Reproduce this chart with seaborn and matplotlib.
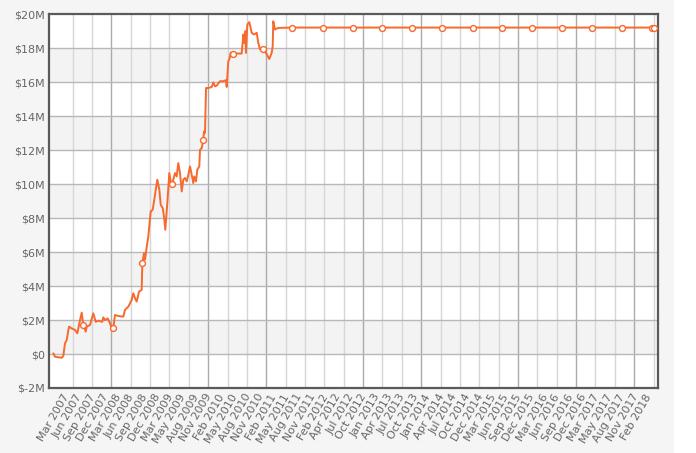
import numpy as np
import pandas as pd
import seaborn as sns
from matplotlib import pyplot as plt
from matplotlib.patches import Rectangle

# balance curve, x in decimal years, y in $ millions
YEARS = [
    2007.057, 2007.089, 2007.214, 2007.244, 2007.276, 2007.308, 2007.351, 2007.402, 2007.464, 2007.507,
    2007.558, 2007.590, 2007.620, 2007.665, 2007.683, 2007.745, 2007.807, 2007.852, 2007.901, 2007.976,
    2007.995, 2008.027, 2008.077, 2008.121, 2008.150, 2008.182, 2008.214, 2008.276, 2008.370, 2008.402,
    2008.464, 2008.528, 2008.558, 2008.590, 2008.622, 2008.665, 2008.715, 2008.727, 2008.758, 2008.777,
    2008.809, 2008.839, 2008.884, 2008.922, 2008.965, 2009.008, 2009.046, 2009.072, 2009.109, 2009.134,
    2009.158, 2009.196, 2009.233, 2009.265, 2009.289, 2009.308, 2009.340, 2009.372, 2009.402, 2009.434,
    2009.466, 2009.496, 2009.528, 2009.560, 2009.590, 2009.622, 2009.653, 2009.683, 2009.702, 2009.734,
    2009.758, 2009.796, 2009.809, 2009.841, 2009.871, 2009.884, 2009.903, 2009.922, 2009.965, 2010.029,
    2010.059, 2010.090, 2010.122, 2010.184, 2010.246, 2010.297, 2010.310, 2010.340, 2010.359, 2010.385,
    2010.434, 2010.591, 2010.622, 2010.640, 2010.659, 2010.672, 2010.697, 2010.734, 2010.779, 2010.822,
    2010.873, 2010.903, 2010.935, 2010.985, 2011.047, 2011.109, 2011.154, 2011.173, 2011.184, 2011.216,
    2011.278, 2011.535, 2018.333,
]
BALANCE = [
    0.04, -0.16, -0.22, -0.12, 0.63, 0.83, 1.61, 1.51, 1.42, 1.22,
    2.0, 2.44, 1.71, 1.32, 1.61, 1.71, 2.4, 1.9, 1.96, 1.9,
    2.16, 2.0, 2.1, 1.81, 1.55, 1.51, 2.3, 2.24, 2.2, 2.6,
    2.79, 3.19, 3.58, 3.29, 3.09, 3.68, 3.78, 5.35, 5.94, 5.55,
    6.3, 6.92, 8.4, 8.5, 9.38, 10.27, 9.68, 8.79, 8.6, 8.1,
    7.32, 8.89, 10.66, 10.07, 10.01, 10.27, 10.66, 10.46, 11.25, 10.66,
    9.58, 10.27, 10.37, 10.17, 10.56, 11.05, 10.56, 10.07, 10.46, 10.17,
    10.86, 11.05, 12.03, 12.13, 12.63, 13.11, 13.02, 15.67, 15.67, 15.73,
    16.0, 15.77, 15.81, 16.07, 16.07, 16.13, 15.73, 17.25, 17.35, 17.75,
    17.7, 17.7, 18.82, 18.33, 19.02, 17.74, 19.41, 19.55, 18.92, 18.82,
    18.92, 18.33, 17.94, 17.94, 17.74, 17.38, 17.74, 18.13, 19.6, 19.12,
    19.21, 19.23, 19.23,
]

MARKER_YEARS = [
    2007.620, 2008.182, 2008.727, 2009.289, 2009.871, 2010.434, 2010.985, 2011.535,
    2012.111, 2012.674, 2013.229, 2013.787, 2014.344, 2014.925, 2015.481, 2016.038,
    2016.595, 2017.169, 2017.727, 2018.289, 2018.333,
]
MARKER_BALANCE = [1.71, 1.51, 5.35, 10.01, 12.63, 17.7, 17.94] + [19.23] * 14

TICK_LABELS = [
    "Mar 2007", "Jun 2007", "Sep 2007", "Dec 2007", "Mar 2008", "Jun 2008", "Sep 2008", "Dec 2008",
    "Mar 2009", "May 2009", "Aug 2009", "Nov 2009", "Feb 2010", "May 2010", "Aug 2010", "Nov 2010",
    "Feb 2011", "May 2011", "Aug 2011", "Nov 2011", "Feb 2012", "Apr 2012", "Jul 2012", "Oct 2012",
    "Jan 2013", "Apr 2013", "Jul 2013", "Oct 2013", "Jan 2014", "Apr 2014", "Jul 2014", "Oct 2014",
    "Dec 2014", "Mar 2015", "Jun 2015", "Sep 2015", "Dec 2015", "Mar 2016", "Jun 2016", "Sep 2016",
    "Dec 2016", "Mar 2017", "May 2017", "Aug 2017", "Nov 2017", "Feb 2018",
]
Y_TICKS = [-2, 0, 2, 4, 6, 8, 10, 12, 14, 16, 18, 20]

ORANGE = "#F7692C"
BG = "#F5F5F5"

sns.set_theme(style="white")
plt.rcParams["font.family"] = ["DejaVu Sans"]

df = pd.DataFrame({"year": YEARS, "balance": BALANCE})
marks = pd.DataFrame({"year": MARKER_YEARS, "balance": MARKER_BALANCE})

fig = plt.figure(figsize=(6.96, 4.53), dpi=100, facecolor=BG)
fig.patches.append(Rectangle((674 / 696, 0), 1, 1, transform=fig.transFigure, color="white", zorder=-1))
ax = fig.add_axes([0.0704, 0.1435, 0.875, 0.8245])
ax.set_facecolor("white")

# alternating bands
for lo in range(0, 20, 4):
    ax.axhspan(lo, lo + 2, color="#F3F3F3", zorder=0, lw=0)

# vertical grid (light, with some darker lines)
grid_step = 0.3633
grid_pos = [2007.057 + k * grid_step for k in range(1, 32)]
for k, gx in enumerate(grid_pos, start=1):
    dark = k in (3, 8, 11, 16, 19, 24, 27, 30)
    ax.axvline(gx, color="#ABABAB" if dark else "#D6D6D6", lw=1.0, zorder=0.5)
for gy in Y_TICKS[1:-1]:
    ax.axhline(gy, color="#B8B8B8", lw=1.0, zorder=0.5)

sns.lineplot(data=df, x="year", y="balance", estimator=None, sort=False,
             color=ORANGE, lw=1.4, ax=ax, zorder=3)
sns.scatterplot(data=marks, x="year", y="balance", marker="o", s=18,
                facecolor="white", edgecolor=ORANGE, linewidth=1.0, ax=ax, zorder=4)

ax.set_xlim(2006.976, 2018.402)
ax.set_ylim(-2, 20)
ax.set_xticks(np.linspace(2007.398, 2018.308, len(TICK_LABELS)))
ax.set_xticklabels(TICK_LABELS, rotation=60, ha="right", va="top", fontsize=8, color="#666666")
ax.set_yticks(Y_TICKS)
ax.set_yticklabels(["$0" if v == 0 else f"${v}M" for v in Y_TICKS], fontsize=8, color="#666666")
ax.tick_params(axis="both", length=0, pad=3)
ax.set_xlabel("")
ax.set_ylabel("")
for side in ax.spines.values():
    side.set_color("#5A5A5A")
    side.set_linewidth(1.6)

fig.savefig("out.png", dpi=100, facecolor=fig.get_facecolor())
